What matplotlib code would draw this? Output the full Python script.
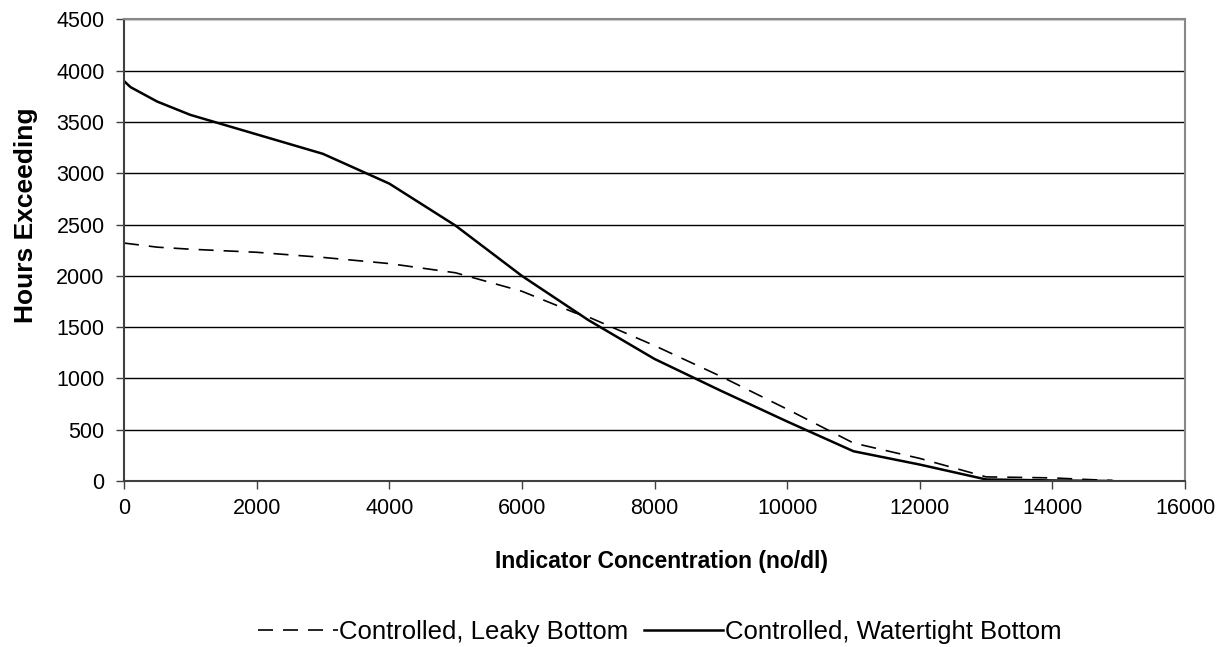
import matplotlib.pyplot as plt
plt.switch_backend('Agg')

plt.rcParams['font.family'] = ['Liberation Sans', 'DejaVu Sans']

# hours exceeding a given indicator concentration
leaky_x = [0, 500, 1000, 2000, 3000, 4000, 5000, 6000, 6800, 7000, 8000, 9000,
           10000, 11000, 12000, 13000, 13500, 14000, 14500, 14900]
leaky_y = [2320, 2280, 2260, 2230, 2180, 2120, 2030, 1850, 1640, 1600, 1320, 1020,
           700, 370, 220, 40, 35, 30, 15, 5]

tight_x = [0, 100, 500, 1000, 2000, 3000, 4000, 5000, 6000, 7000, 8000, 9000,
           10000, 11000, 12000, 13000, 14000, 14900]
tight_y = [3900, 3840, 3700, 3570, 3380, 3190, 2900, 2490, 2000, 1570, 1190, 880,
           580, 290, 160, 15, 5, 0]

x_ticks = list(range(0, 16001, 2000))
y_ticks = list(range(0, 4501, 500))

fig = plt.figure(figsize=(12.26, 6.47), dpi=100)
ax = fig.add_axes([0.1011, 0.2566, 0.8655, 0.7133])

ax.plot(leaky_x, leaky_y, color='black', lw=1.2, ls=(0, (9, 6)),
        label='Controlled, Leaky Bottom')
ax.plot(tight_x, tight_y, color='black', lw=1.8,
        label='Controlled, Watertight Bottom')

ax.set_xlim(0, 16000)
ax.set_ylim(0, 4500)
ax.set_xticks(x_ticks)
ax.set_yticks(y_ticks)
ax.yaxis.grid(True, color='black', lw=1.0)
ax.set_axisbelow(True)

for side in ['left', 'bottom']:
    ax.spines[side].set_color('#404040')
    ax.spines[side].set_linewidth(1.5)
for side in ['top', 'right']:
    ax.spines[side].set_color('#888888')
    ax.spines[side].set_linewidth(1.5)

ax.tick_params(axis='both', direction='out', length=6, width=1,
               color='#404040', labelsize=15.5)
ax.tick_params(axis='y', pad=8)
ax.tick_params(axis='x', pad=6)

ax.set_xlabel('Indicator Concentration (no/dl)', fontsize=16.5, fontweight='bold')
ax.set_ylabel('Hours Exceeding', fontsize=19, fontweight='bold')
ax.xaxis.label.set_va('center')
ax.yaxis.label.set_va('center')
ax.xaxis.set_label_coords(0.507, -0.1755)
ax.yaxis.set_label_coords(-0.092, 0.575)

fig.legend(loc='center', bbox_to_anchor=(0.538, 0.023), ncol=2, frameon=False,
           fontsize=18.5, handlelength=3.1, handletextpad=0.05, columnspacing=0.6,
           borderpad=0)

fig.savefig('out.png', dpi=100)
